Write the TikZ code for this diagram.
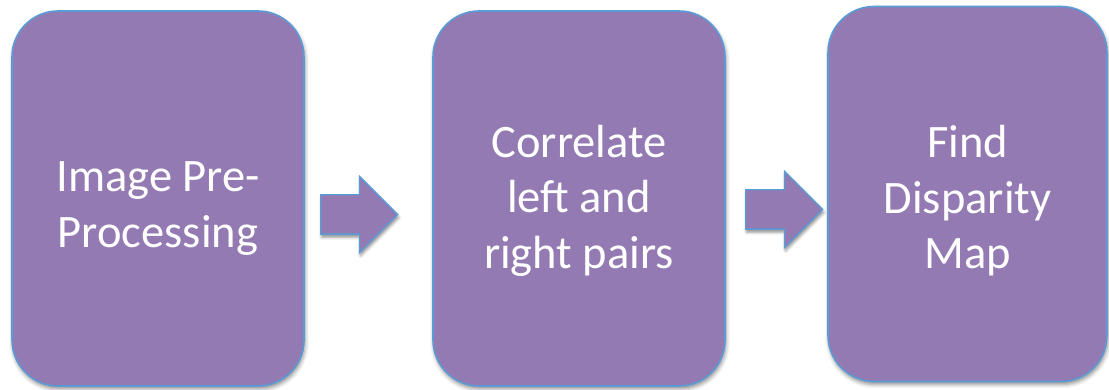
\documentclass[tikz,border=0pt]{standalone}
\usepackage{fontspec}
\setmainfont{Carlito}
\usetikzlibrary{shapes.arrows,shadows.blur}
\definecolor{boxfill}{RGB}{148,122,178}
\definecolor{boxline}{RGB}{91,155,213}
\tikzset{
  stagebox/.style={draw=boxline, line width=1.6pt, fill=boxfill, rounded corners=46pt,
    minimum width=#1, minimum height=375pt, inner sep=0pt,
    blur shadow={shadow xshift=1pt, shadow yshift=-3pt, shadow blur radius=4pt, shadow opacity=45}},
  stagetext/.style={text=white, align=center, inner sep=0pt,
    font=\fontsize{46.5}{55.5}\selectfont},
  flowarrow/.style={single arrow, draw=boxline, line width=1.4pt, fill=boxfill,
    minimum height=77pt, text height=19pt, text depth=19pt, text width=0pt,
    single arrow head extend=18.5pt,
    single arrow tip angle=90, inner sep=0pt, shape border rotate=0, anchor=tail,
    blur shadow={shadow xshift=1pt, shadow yshift=-3pt, shadow blur radius=3pt, shadow opacity=45}}
}
\begin{document}
\begin{tikzpicture}[x=1pt,y=1pt]
\useasboundingbox (0,0) rectangle (1109,390);
\node[stagebox=292pt] (pre) at (158,191.5) {};
\node[stagebox=292pt] (corr) at (579,191.5) {};
\node[stagebox=279pt] (disp) at (967.5,196) {};
\node[stagetext] (pretext) at ([yshift=-10pt]pre.center) {Image Pre-\\Processing};
\node[stagetext] (corrtext) at ([yshift=-2pt]corr.center) {Correlate\\left and\\right pairs};
\node[stagetext] (disptext) at ([yshift=-7pt]disp.center) {Find\\Disparity\\Map};
\node[flowarrow] (a1) at (320,175.5) {};
\node[flowarrow] (a2) at (745,180.5) {};
\end{tikzpicture}
\end{document}
